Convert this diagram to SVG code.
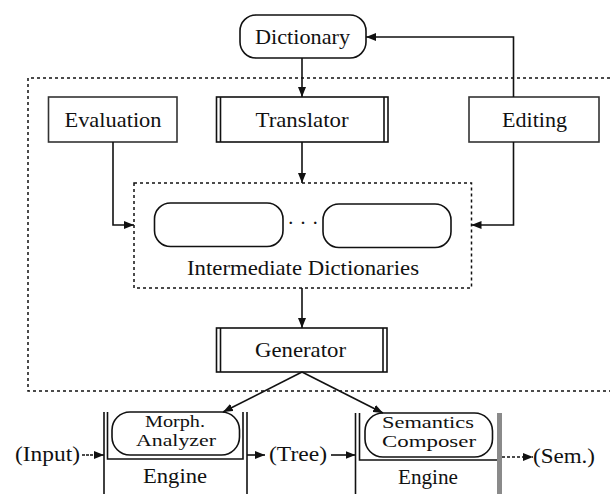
<svg xmlns="http://www.w3.org/2000/svg" width="610" height="494" viewBox="0 0 610 494" font-family="Liberation Serif, Times New Roman, serif">
  <style>
    .t { font-size: 21px; fill: #111; text-anchor: middle; }
    .s { font-size: 17px; }
    .box { fill: none; stroke: #111; stroke-width: 1.6; }
    .grain { fill: none; stroke: #333; stroke-width: 1.6; }
    .dash { fill: none; stroke: #111; stroke-width: 1.5; stroke-dasharray: 3 3; }
    .con { fill: none; stroke: #111; stroke-width: 1.6; }
    .arr { marker-end: url(#head); }
  </style>
  <defs>
    <marker id="head" viewBox="0 0 10 8" refX="10" refY="4" markerWidth="10" markerHeight="8" markerUnits="userSpaceOnUse" orient="auto">
      <path d="M0,0 L10,4 L0,8 Z" fill="#111"/>
    </marker>
  </defs>

  <!-- enclosing editor environment (open to the right) -->
  <path class="dash" d="M610,78 H28 V391 H610"/>

  <g id="dictionary">
    <rect class="box" x="240" y="15" width="126" height="43" rx="16"/>
    <text class="t" x="302.5" y="44" textLength="95" lengthAdjust="spacingAndGlyphs">Dictionary</text>
  </g>

  <g id="evaluation">
    <rect class="grain" x="48.5" y="97" width="128.5" height="45"/>
    <text class="t" x="113" y="127" textLength="97" lengthAdjust="spacingAndGlyphs">Evaluation</text>
  </g>

  <g id="translator">
    <rect class="box" x="216.5" y="97" width="171.5" height="45"/>
    <line class="box" x1="220.5" y1="97" x2="220.5" y2="142"/>
    <line class="box" x1="384" y1="97" x2="384" y2="142"/>
    <text class="t" x="302" y="127" textLength="93" lengthAdjust="spacingAndGlyphs">Translator</text>
  </g>

  <g id="editing">
    <rect class="grain" x="469" y="97" width="130" height="45"/>
    <text class="t" x="534.5" y="127" textLength="65" lengthAdjust="spacingAndGlyphs">Editing</text>
  </g>

  <g id="intermediate-dictionaries">
    <rect class="dash" x="134" y="183" width="337.5" height="105"/>
    <rect class="box" x="154.5" y="203" width="128.5" height="43.5" rx="16"/>
    <rect class="box" x="323" y="204" width="128" height="43.5" rx="16"/>
    <text class="t" x="303" y="230">· · ·</text>
    <text class="t" x="303" y="275" textLength="232" lengthAdjust="spacingAndGlyphs">Intermediate Dictionaries</text>
  </g>

  <g id="generator">
    <rect class="box" x="216.5" y="328" width="170.5" height="44"/>
    <line class="box" x1="220.5" y1="328" x2="220.5" y2="372"/>
    <line class="box" x1="383" y1="328" x2="383" y2="372"/>
    <text class="t" x="300.5" y="357" textLength="91" lengthAdjust="spacingAndGlyphs">Generator</text>
  </g>

  <g id="morph-engine">
    <line class="box" x1="104" y1="412" x2="104" y2="494"/>
    <line class="box" x1="247" y1="412" x2="247" y2="494"/>
    <path class="box" d="M107.5,412 V459 H243 V412"/>
    <rect class="box" x="112" y="412" width="127.5" height="43" rx="18"/>
    <text class="t s" x="175" y="427" textLength="60" lengthAdjust="spacingAndGlyphs">Morph.</text>
    <text class="t s" x="176" y="446" textLength="80" lengthAdjust="spacingAndGlyphs">Analyzer</text>
    <text class="t" x="175" y="483" textLength="64" lengthAdjust="spacingAndGlyphs">Engine</text>
  </g>

  <g id="semantics-engine">
    <line class="box" x1="355.5" y1="413" x2="355.5" y2="494"/>
    <path class="box" d="M359.5,413 V460 H497"/>
    <rect x="497" y="413" width="5" height="81" fill="#8a8a8a"/>
    <rect class="box" x="365" y="413" width="127.5" height="44" rx="18"/>
    <text class="t s" x="428" y="428" textLength="92" lengthAdjust="spacingAndGlyphs">Semantics</text>
    <text class="t s" x="429" y="447" textLength="94" lengthAdjust="spacingAndGlyphs">Composer</text>
    <text class="t" x="428" y="484" textLength="60" lengthAdjust="spacingAndGlyphs">Engine</text>
  </g>

  <g id="input">
    <text class="t" x="47.5" y="461" textLength="65" lengthAdjust="spacingAndGlyphs">(Input)</text>
  </g>
  <g id="tree">
    <text class="t" x="298" y="461" textLength="58" lengthAdjust="spacingAndGlyphs">(Tree)</text>
  </g>
  <g id="sem">
    <text class="t" x="564" y="463" textLength="62" lengthAdjust="spacingAndGlyphs">(Sem.)</text>
  </g>

  <g id="connectors">
    <line class="con arr" x1="302" y1="58" x2="302" y2="97"/>
    <line class="con arr" x1="302" y1="142" x2="302" y2="183"/>
    <line class="con arr" x1="302" y1="288" x2="302" y2="328"/>
    <path class="con arr" d="M113,142 V225 H134"/>
    <path class="con arr" d="M513.5,142 V225 H471.5"/>
    <path class="con arr" d="M513.5,97 V37 H366" stroke="#444"/>
    <line class="con arr" x1="302" y1="372" x2="223" y2="412"/>
    <line class="con arr" x1="302" y1="372" x2="383" y2="413"/>
    <line class="con arr" x1="82" y1="455" x2="104" y2="455" stroke-dasharray="3 1"/>
    <line class="con arr" x1="247" y1="455" x2="265" y2="455"/>
    <line class="con arr" x1="331" y1="455" x2="355.5" y2="455"/>
    <line class="con arr" x1="502" y1="457" x2="533" y2="457" stroke-dasharray="3 2"/>
  </g>
</svg>
